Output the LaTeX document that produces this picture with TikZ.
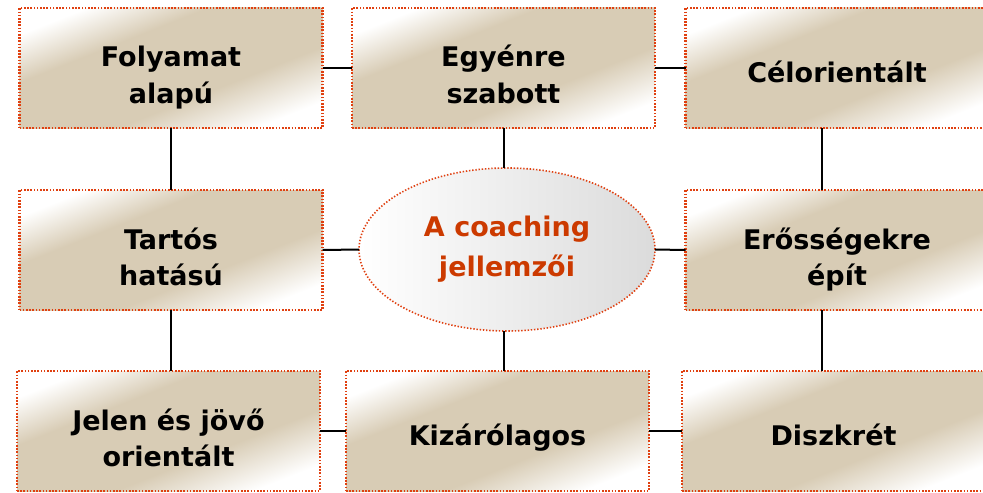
\documentclass[tikz,border=0pt]{standalone}
\usepackage{fontspec}
\setmainfont{DejaVu Sans}
\usepackage{tikz}
\usetikzlibrary{positioning, calc, shapes.geometric}

\definecolor{tanfill}{RGB}{216,204,181}
\definecolor{dotred}{RGB}{224,64,16}
\definecolor{titlered}{RGB}{204,58,0}
\pgfdeclarehorizontalshading{tanband}{100bp}{color(0bp)=(white); color(11bp)=(white); color(31bp)=(tanfill); color(66bp)=(tanfill); color(89bp)=(white); color(100bp)=(white)}

\tikzset{
    trait/.style={rectangle, draw=dotred, line width=1.1pt, dash pattern=on 0.8pt off 0.8pt,
        minimum width=151.5pt, minimum height=60pt,
        path picture={
            \pgftransformshift{\pgfpointanchor{path picture bounding box}{center}}
            \pgftransformcm{1.509}{-0.598}{1.509}{0.598}{\pgfpointorigin}
            \pgflowlevelsynccm\pgfuseshading{tanband}},
        inner sep=0pt, outer sep=0pt, align=center, font=\bfseries\fontsize{13.5}{18.3}\selectfont,
        text height=18.9pt, text depth=4pt},
    twoline/.style={text height=39pt, text depth=3.4pt},
    core/.style={ellipse, draw=dotred, line width=0.8pt, dash pattern=on 0.7pt off 0.9pt,
        left color=white, right color=black!14, minimum width=148pt, minimum height=81.5pt,
        inner sep=0pt, outer sep=0pt, align=center, text=titlered,
        font=\bfseries\fontsize{13.5}{20}\selectfont},
    link/.style={line width=1pt, black}
}

\begin{document}
\begin{tikzpicture}[x=0.5pt, y=0.5pt]
        \useasboundingbox (0,0) rectangle (983,-492);
        % the nine boxes
        \node[trait, twoline] (folyamat) at (171,-68) {Folyamat\\alapú};
        \node[trait, twoline] (egyenre) at (503.5,-68) {Egyénre\\szabott};
        \node[trait] (cel) at (837,-68) {Célorientált};
        \node[trait, twoline] (tartos) at (171,-250) {Tartós\\hatású};
        \node[core] (coaching) at (507,-249.5) {A coaching\\jellemzői};
        \node[trait, twoline] (erosseg) at (837,-250) {Erősségekre\\épít};
        \node[trait, twoline] (jelen) at (168.5,-431) {Jelen és jövő\\orientált};
        \node[trait] (kizaro) at (497.5,-431) {Kizárólagos};
        \node[trait] (diszkret) at (833.5,-431) {Diszkrét};
        % links
        \draw[link] (folyamat) -- (egyenre);
        \draw[link] (egyenre) -- (cel);
        \draw[link] (folyamat.south) -- (folyamat.south |- tartos.north);
        \draw[link] (egyenre.south) -- (egyenre.south |- coaching.north);
        \draw[link] ([xshift=-7.5pt]cel.south) -- ([xshift=-7.5pt]cel.south |- erosseg.north);
        \draw[link] (tartos) -- (coaching);
        \draw[link] (coaching) -- (erosseg);
        \draw[link] (tartos.south) -- (tartos.south |- jelen.north);
        \draw[link] (egyenre.south |- coaching.south) -- (egyenre.south |- kizaro.north);
        \draw[link] ([xshift=-7.5pt]erosseg.south) -- ([xshift=-7.5pt]erosseg.south |- diszkret.north);
        \draw[link] (jelen) -- (kizaro);
        \draw[link] (kizaro) -- (diszkret);
\end{tikzpicture}
\end{document}
